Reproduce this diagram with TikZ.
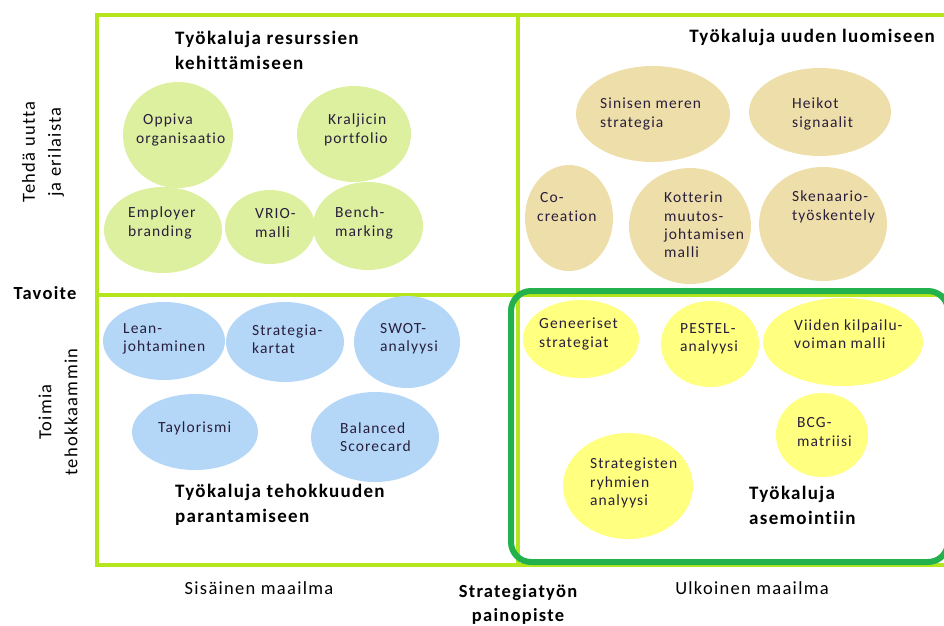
\documentclass[tikz,border=0pt]{standalone}
\usepackage{fontspec}
\setmainfont{Carlito}[LetterSpace=7, Ligatures={NoCommon}]
\usetikzlibrary{shapes.geometric}
\definecolor{limeframe}{RGB}{181,230,29}
\definecolor{darkgrn}{RGB}{34,177,76}
\definecolor{fillgreen}{RGB}{221,240,160}
\definecolor{filltan}{RGB}{238,223,170}
\definecolor{fillblue}{RGB}{180,215,248}
\definecolor{fillyellow}{RGB}{255,255,128}
\definecolor{txt}{RGB}{40,30,60}
\tikzset{
  blob/.style={ellipse, inner sep=0pt, draw=none},
  gblob/.style={blob, fill=fillgreen},
  tblob/.style={blob, fill=filltan},
  bblob/.style={blob, fill=fillblue},
  yblob/.style={blob, fill=fillyellow},
  lbl/.style={anchor=west, align=left, inner sep=0pt, text=txt, font=\fontsize{15.5}{18.3}\selectfont},
  head/.style={anchor=west, align=left, inner sep=0pt, font=\fontsize{19}{25}\selectfont\bfseries},
  axis/.style={inner sep=0pt, align=center, font=\fontsize{18.5}{26}\selectfont},
  frame/.style={draw=limeframe, line width=3.5pt},
}
\begin{document}
\begin{tikzpicture}[x=1pt,y=-1pt]
\useasboundingbox (0,0) rectangle (944,625);
% frame
\draw[frame] (97,15) rectangle (946,565);
\draw[frame] (97,295) -- (946,295);
\draw[frame] (518,15) -- (518,565);
\draw[draw=darkgrn, line width=6pt, rounded corners=20pt] (511,291) rectangle (948,562);

% top-left
\node[gblob, minimum width=110pt, minimum height=106pt] (oppE) at (178,135) {};
\node[lbl] (opp) at (136,130) {\hspace*{7pt}Oppiva\\organisaatio};
\node[gblob, minimum width=114pt, minimum height=96pt] (kraE) at (354,134) {};
\node[lbl] (kra) at (324,130) {\hspace*{4pt}Kraljicin\\portfolio};
\node[gblob, minimum width=118pt, minimum height=86pt] (empE) at (163,230) {};
\node[lbl] (emp) at (128,223) {Employer\\branding};
\node[gblob, minimum width=90pt, minimum height=74pt] (vriE) at (270,227) {};
\node[lbl] (vri) at (255,223) {VRIO-\\malli};
\node[gblob, minimum width=110pt, minimum height=88pt] (benE) at (368,226) {};
\node[lbl] (ben) at (335,223) {Bench-\\marking};
\node[head] (h1) at (175,50) {Työkaluja resurssien\\kehittämiseen};

% top-right
\node[tblob, minimum width=154pt, minimum height=96pt] (sinE) at (653,114) {};
\node[lbl] (sin) at (600,114) {Sinisen meren\\strategia};
\node[tblob, minimum width=142pt, minimum height=88pt] (heiE) at (820,112) {};
\node[lbl] (hei) at (792,114) {Heikot\\signaalit};
\node[tblob, minimum width=88pt, minimum height=106pt] (coE) at (569,218) {};
\node[lbl] (co) at (537,207) {\hspace*{3pt}Co-\\creation};
\node[tblob, minimum width=122pt, minimum height=116pt] (kotE) at (690,226) {};
\node[lbl] (kot) at (664,225) {Kotterin\\muutos-\\johtamisen\\malli};
\node[tblob, minimum width=128pt, minimum height=114pt] (skeE) at (823,224) {};
\node[lbl] (ske) at (792,207) {Skenaario-\\työskentely};
\node[head, anchor=east] (h2) at (935,37) {Työkaluja uuden luomiseen};

% bottom-left
\node[bblob, minimum width=122pt, minimum height=78pt] (leaE) at (164,341) {};
\node[lbl] (lea) at (123,339) {Lean-\\johtaminen};
\node[bblob, minimum width=118pt, minimum height=80pt] (strE) at (285,342) {};
\node[lbl] (str) at (252,339) {Strategia-\\kartat};
\node[bblob, minimum width=106pt, minimum height=92pt] (swoE) at (407,342) {};
\node[lbl] (swo) at (380,339) {SWOT-\\analyysi};
\node[bblob, minimum width=126pt, minimum height=76pt] (tayE) at (195,432) {};
\node[lbl] (tay) at (158,428) {Taylorismi};
\node[bblob, minimum width=128pt, minimum height=90pt] (balE) at (375,437) {};
\node[lbl] (bal) at (340,437) {Balanced\\Scorecard};
\node[head] (h3) at (175,505) {Työkaluja tehokkuuden\\parantamiseen};

% bottom-right
\node[yblob, minimum width=116pt, minimum height=78pt] (genE) at (581,339) {};
\node[lbl] (gen) at (539,334) {Geneeriset\\strategiat};
\node[yblob, minimum width=98pt, minimum height=86pt] (pesE) at (710,344) {};
\node[lbl] (pes) at (680,339) {PESTEL-\\analyysi};
\node[yblob, minimum width=160pt, minimum height=88pt] (viiE) at (843,342) {};
\node[lbl] (vii) at (794,334) {Viiden kilpailu-\\voiman malli};
\node[yblob, minimum width=92pt, minimum height=84pt] (bcgE) at (822,435) {};
\node[lbl] (bcg) at (797,432) {BCG-\\matriisi};
\node[yblob, minimum width=130pt, minimum height=106pt] (rybE) at (628,486) {};
\node[lbl] (ryb) at (590,483) {Strategisten\\ryhmien\\analyysi};
\node[head] (h4) at (749,505) {Työkaluja\\asemointiin};

% axis labels
\node[axis, rotate=90] (ax1) at (43,152) {Tehdä uutta\\ja erilaista};
\node[axis, rotate=90] (ax2) at (58,412) {Toimia\\tehokkaammin};
\node[axis, font=\fontsize{18.5}{24}\selectfont\bfseries] (tav) at (45,293) {Tavoite};
\node[axis] (sis) at (259,588) {Sisäinen maailma};
\node[axis, font=\fontsize{18.5}{24}\selectfont\bfseries] (pai) at (518,604) {Strategiatyön\\painopiste};
\node[axis] (ulk) at (752,588) {Ulkoinen maailma};
\end{tikzpicture}
\end{document}
